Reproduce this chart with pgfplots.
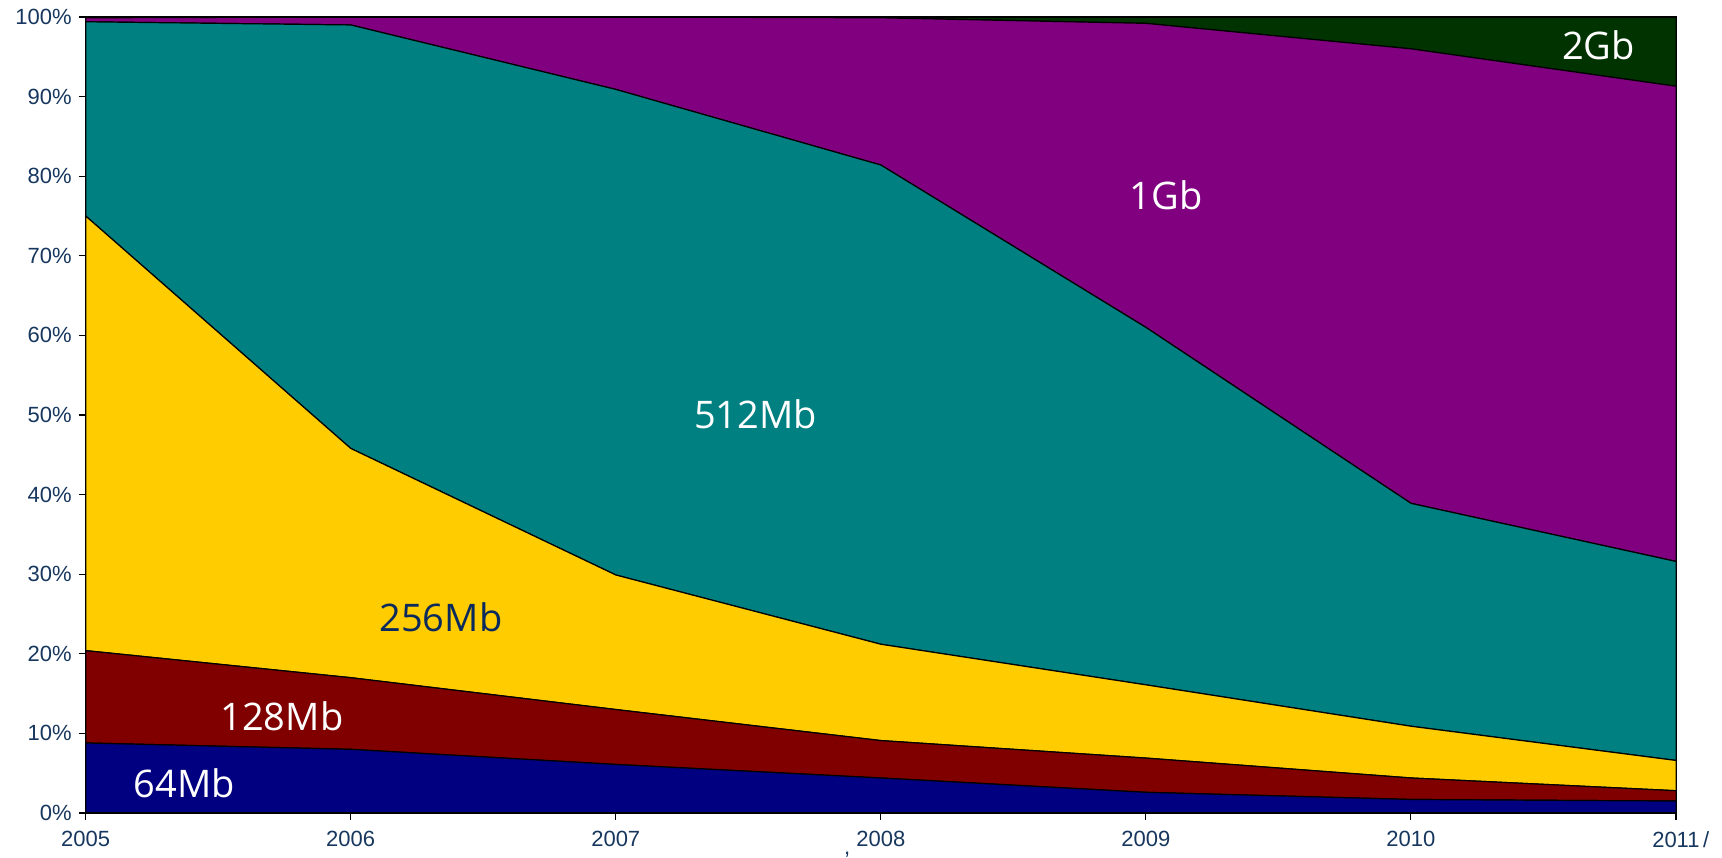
\documentclass[border=0pt]{standalone}
\usepackage{fontspec}
\setmainfont{Liberation Sans}
\newfontfamily\labelfont{Open Sans}
\usepackage{pgfplots}
\pgfplotsset{compat=1.18}
\definecolor{c64}{HTML}{000080}
\definecolor{c128}{HTML}{800000}
\definecolor{c256}{HTML}{FFCC00}
\definecolor{c512}{HTML}{008080}
\definecolor{c1g}{HTML}{800080}
\definecolor{c2g}{HTML}{003300}
\definecolor{tickc}{HTML}{17375E}
\definecolor{lab256}{HTML}{0A2A5E}
\begin{document}
\begin{tikzpicture}
\useasboundingbox (-42.85pt,-22pt) rectangle (818.15pt,406.5pt);
\begin{axis}[
  scale only axis,
  width=795.2pt, height=398pt,
  xmin=2005, xmax=2011, ymin=0, ymax=100,
  stack plots=y,
  xtick={2005,...,2011},
  xticklabels={2005,2006,2007,{\llap{\raisebox{-4pt}{,}\hspace{3pt}}2008},2009,2010,{2011\rlap{\,/}}},
  ytick={0,10,...,100},
  yticklabel={\pgfmathprintnumber{\tick}\%},
  /pgf/number format/assume math mode=true,
  tick align=outside,
  xtick pos=bottom, ytick pos=left,
  major tick length=3.5pt,
  tick style={black, line width=0.6pt},
  axis line style={black, line width=0.6pt},
  ticklabel style={font=\fontsize{11}{13}\selectfont, text=tickc},
  xticklabel style={yshift=-2pt},
  axis on top,
  clip=false,
]
\addplot[fill=c64, draw=black, line width=0.6pt] coordinates {(2005,8.8) (2006,8.0) (2007,6.1) (2008,4.4) (2009,2.6) (2010,1.7) (2011,1.5)} \closedcycle;
\addplot[fill=c128, draw=black, line width=0.6pt] coordinates {(2005,11.6) (2006,9.0) (2007,6.9) (2008,4.7) (2009,4.3) (2010,2.7) (2011,1.3)} \closedcycle;
\addplot[fill=c256, draw=black, line width=0.6pt] coordinates {(2005,54.6) (2006,28.8) (2007,16.9) (2008,12.1) (2009,9.2) (2010,6.5) (2011,3.8)} \closedcycle;
\addplot[fill=c512, draw=black, line width=0.6pt] coordinates {(2005,24.4) (2006,53.2) (2007,61.0) (2008,60.2) (2009,44.9) (2010,28.0) (2011,25.0)} \closedcycle;
\addplot[fill=c1g, draw=black, line width=0.6pt] coordinates {(2005,0.5) (2006,1.0) (2007,9.1) (2008,18.5) (2009,38.2) (2010,57.1) (2011,59.7)} \closedcycle;
\addplot[fill=c2g, draw=black, line width=0.6pt] coordinates {(2005,0.1) (2006,0.0) (2007,0.0) (2008,0.1) (2009,0.8) (2010,4.0) (2011,8.7)} \closedcycle;
\end{axis}
\node[text=white, font=\labelfont\fontsize{19}{22}\selectfont] at (49.4pt,15.1pt) {64Mb};
\node[text=white, font=\labelfont\fontsize{19}{22}\selectfont] at (98.1pt,48.6pt) {128Mb};
\node[text=lab256, font=\labelfont\fontsize{19}{22}\selectfont] at (177.6pt,97.9pt) {256Mb};
\node[text=white, font=\labelfont\fontsize{19}{22}\selectfont] at (334.9pt,199.4pt) {512Mb};
\node[text=white, font=\labelfont\fontsize{19}{22}\selectfont] at (540.3pt,308.8pt) {1Gb};
\node[text=white, font=\labelfont\fontsize{19}{22}\selectfont] at (756.4pt,383.7pt) {2Gb};
\end{tikzpicture}
\end{document}
